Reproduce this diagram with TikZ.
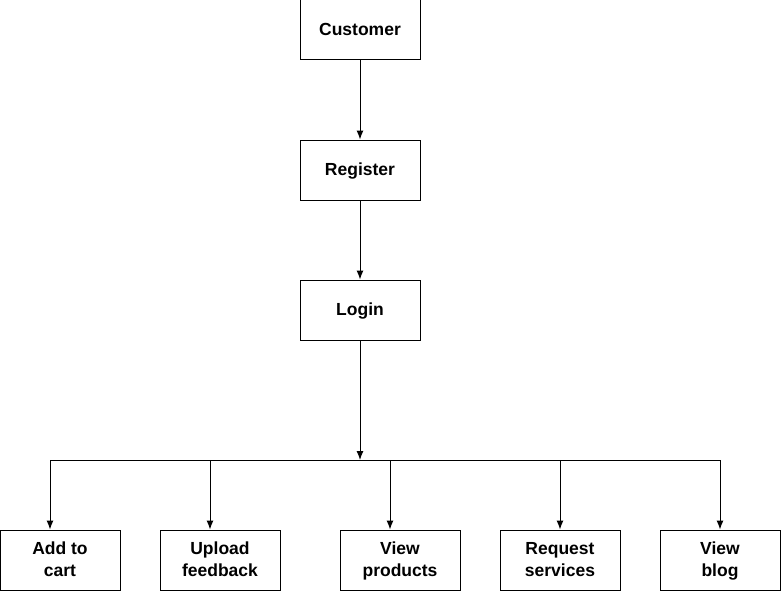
\documentclass[tikz,border=0pt]{standalone}
\usepackage{fontspec}
\setmainfont{Liberation Sans}
\usepackage{tikz}
\usetikzlibrary{arrows.meta}

\begin{document}
\begin{tikzpicture}[x=1pt,y=-1pt,line width=1pt,>={Latex[length=9pt,width=7pt]},
  box/.style={draw,minimum width=120pt,minimum height=60pt,inner sep=0pt,align=center,font=\fontsize{17.5}{22}\selectfont\bfseries},
  onebox/.style={box,text height=12.6pt,text depth=1.2pt}]
\useasboundingbox (0,0) rectangle (781,591);
\node[onebox] (customer) at (360,30) {Customer};
\node[onebox] (register) at (360,170) {Register};
\node[onebox] (login) at (360,310) {Login};
\node[box] (cart) at (60,560) {\rule{0pt}{18.4pt}Add to\\cart\strut};
\node[box] (feedback) at (220,560) {\rule{0pt}{18.4pt}Upload\\feedback\strut};
\node[box] (products) at (400,560) {\rule{0pt}{18.4pt}View\\products\strut};
\node[box] (services) at (560,560) {\rule{0pt}{18.4pt}Request\\services\strut};
\node[box] (blog) at (720,560) {\rule{0pt}{18.4pt}View\\blog\strut};
\coordinate (bar) at (360,460);
\coordinate (b1) at (50,460);
\coordinate (b2) at (210,460);
\coordinate (b3) at (390,460);
\coordinate (b4) at (560,460);
\coordinate (b5) at (720,460);
\draw [->,](customer)--(register);
\draw [->,](register)--(login);
\draw [->,](login)--(bar);
\draw (b1)--(b5);
\draw [->,](b1)--(b1 |- cart.north);
\draw [->,](b2)--(b2 |- feedback.north);
\draw [->,](b3)--(b3 |- products.north);
\draw [->,](b4)--(b4 |- services.north);
\draw [->,](b5)--(b5 |- blog.north);
\end{tikzpicture}
\end{document}
